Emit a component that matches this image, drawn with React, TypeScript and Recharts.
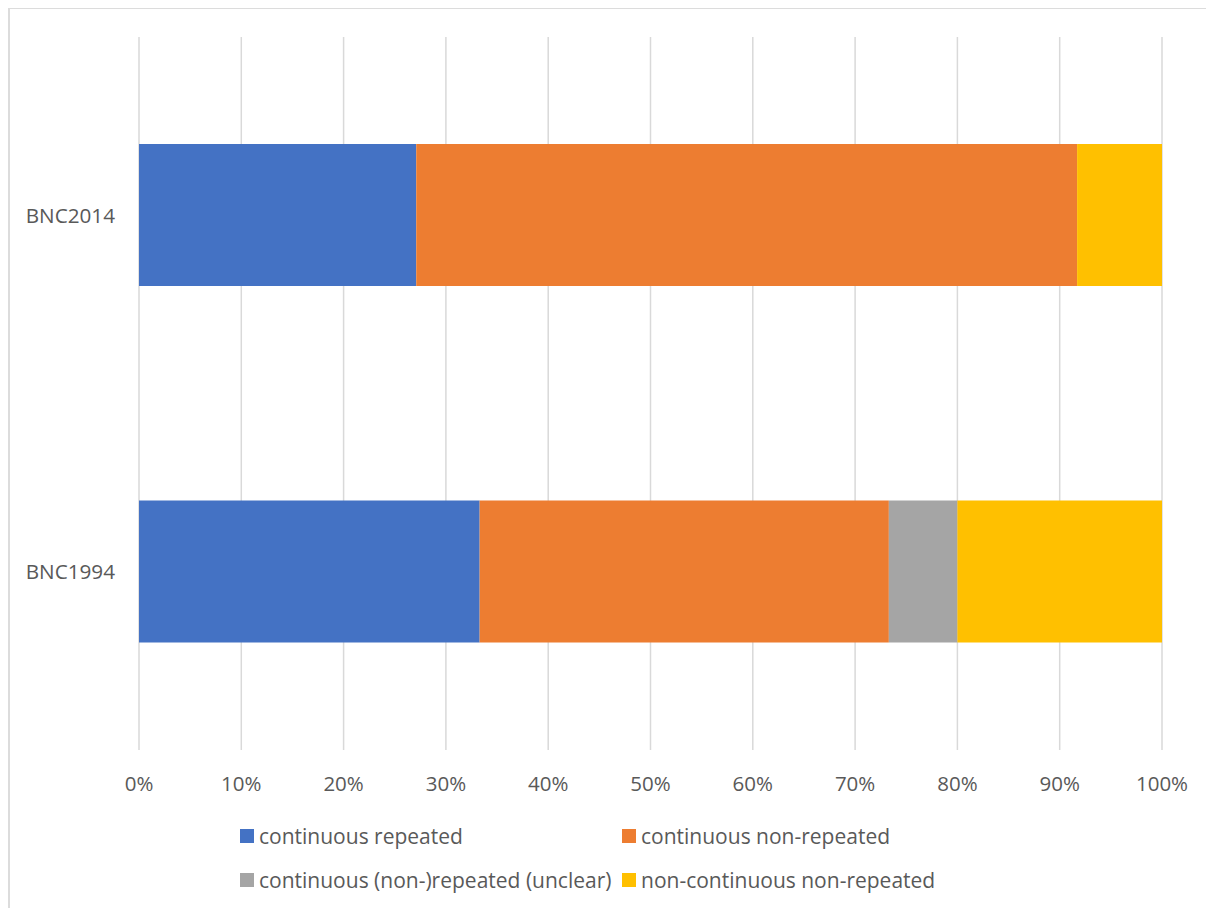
import React from 'react';
import { BarChart, Bar, XAxis, YAxis, CartesianGrid, Legend } from 'recharts';

const corpora = ['BNC2014', 'BNC1994'];
const continuousRepeated = [27.1, 33.3];
const continuousNonRepeated = [64.6, 40.0];
const continuousUnclear = [0, 6.7];
const nonContinuousNonRepeated = [8.3, 20.0];
const pctTicks = [0, 10, 20, 30, 40, 50, 60, 70, 80, 90, 100];

const SERIES = [
  { key: 'cr', name: 'continuous repeated', color: '#4472c4' },
  { key: 'cnr', name: 'continuous non-repeated', color: '#ed7d31' },
  { key: 'cu', name: 'continuous (non-)repeated (unclear)', color: '#a5a5a5' },
  { key: 'ncnr', name: 'non-continuous non-repeated', color: '#ffc000' },
];

const data = corpora.map((c, i) => ({
  corpus: c,
  cr: continuousRepeated[i],
  cnr: continuousNonRepeated[i],
  cu: continuousUnclear[i],
  ncnr: nonContinuousNonRepeated[i],
}));

const FONT = '"Open Sans", sans-serif';
const TEXT = '#595959';

function LegendBox() {
  const cols = [221, 603];
  return (
    <div style={{ position: 'relative', height: 100, fontFamily: FONT, fontSize: 21, color: TEXT }}>
      {SERIES.map((s, i) => (
        <div
          key={s.key}
          style={{
            position: 'absolute',
            left: cols[i % 2],
            top: i < 2 ? 36 - 14 : 80 - 14,
            height: 28,
            display: 'flex',
            alignItems: 'center',
            whiteSpace: 'nowrap',
          }}
        >
          <span style={{ width: 14, height: 14, background: s.color, display: 'inline-block', marginRight: 5 }} />
          <span>{s.name}</span>
        </div>
      ))}
    </div>
  );
}

export default function App() {
  return (
    <div style={{ borderTop: '2px solid #dcdcdc', borderLeft: '2px solid #dcdcdc', marginTop: -1, width: 1204, height: 899, background: '#fff' }}>
      <BarChart
        width={1203}
        height={899}
        data={data}
        layout="vertical"
        barSize={142}
        margin={{ top: 28, right: 51, bottom: 8, left: 9 }}
      >
        <CartesianGrid horizontal={false} stroke="#d9d9d9" strokeWidth={1.5} />
        <XAxis
          type="number"
          domain={[0, 100]}
          ticks={pctTicks}
          tickFormatter={(v) => `${v}%`}
          axisLine={false}
          tickLine={false}
          tickMargin={20}
          height={50}
          tick={{ fontSize: 20.5, fill: TEXT, fontFamily: FONT }}
          interval={0}
        />
        <YAxis
          type="category"
          dataKey="corpus"
          width={120}
          axisLine={false}
          tickLine={false}
          tickMargin={18}
          tick={{ fontSize: 20.7, fill: TEXT, fontFamily: FONT }}
        />
        {SERIES.map((s) => (
          <Bar key={s.key} dataKey={s.key} name={s.name} stackId="a" fill={s.color} isAnimationActive={false} />
        ))}
        <Legend verticalAlign="bottom" height={100} content={() => <LegendBox />} />
      </BarChart>
    </div>
  );
}
